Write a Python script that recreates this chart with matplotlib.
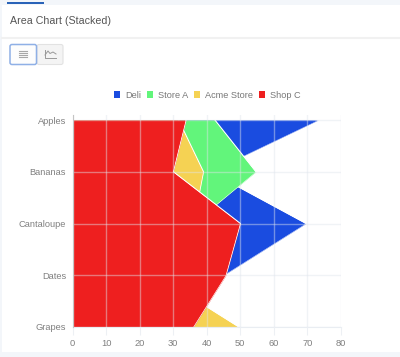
import matplotlib
matplotlib.use('Agg')
import matplotlib.pyplot as plt
from matplotlib.patches import Rectangle, FancyBboxPatch

plt.rcParams['font.family'] = ['Liberation Sans', 'DejaVu Sans']

categories = ['Apples', 'Bananas', 'Cantaloupe', 'Dates', 'Grapes']
xTicks = [0, 10, 20, 30, 40, 50, 60, 70, 80]

# outer edge of each area as it shows in the picture (stacked totals)
deli = [73.2, 41, 69.5, 45, 30]
storeA = [42.4, 54.6, 36, 30, 20]
acmeStore = [31.6, 39, 36, 25, 49.5]
shopC = [33.8, 30, 50, 45.7, 36]

seriesNames = ['Deli', 'Store A', 'Acme Store', 'Shop C']
seriesColors = ['#1a4ce0', '#62f57b', '#f5d253', '#ee1f1f']
seriesValues = [deli, storeA, acmeStore, shopC]

W, H = 400, 357
fig = plt.figure(figsize=(W / 100, H / 100), dpi=100, facecolor='#f3f6fa')

# page furniture, in pixel coords
page = fig.add_axes([0, 0, 1, 1], zorder=0)
page.set_xlim(0, W)
page.set_ylim(H, 0)
page.axis('off')
page.add_patch(Rectangle((2, 5), W, 347, fc='white', ec='none'))
page.add_patch(Rectangle((7, 2), 37, 1.6, fc='#2a63b8', ec='none'))
page.plot([2, W], [37.5, 37.5], color='#f1f1f1', lw=1.5)
page.text(10, 21.5, 'Area Chart (Stacked)', fontsize=7.7, color='#555555', va='center')

page.add_patch(FancyBboxPatch((37, 44.5), 26, 20, boxstyle='round,pad=0,rounding_size=2',
                              fc='#f4f4f4', ec='#e2e2e2', lw=0.8))
page.add_patch(FancyBboxPatch((10, 44.5), 26.5, 20, boxstyle='round,pad=0,rounding_size=2',
                              fc='#fdfdfd', ec='#8fb0e6', lw=1.1))
for yy in [51, 53, 55, 57]:
    page.plot([19, 27], [yy, yy], color='#a8a8a8', lw=0.8)
page.plot([45, 45, 56], [50, 58, 58], color='#999999', lw=0.7)
page.plot([45, 48, 50, 53, 56], [55, 51, 53.5, 52, 54], color='#999999', lw=0.7)

# plot area
left, right, top, bottom = 72.5, 341, 115, 327
ax = fig.add_axes([left / W, 1 - bottom / H, (right - left) / W, (bottom - top) / H], zorder=1)
ax.patch.set_alpha(0)
yPos = list(range(len(categories)))

for name, color, values in zip(seriesNames, seriesColors, seriesValues):
    ax.fill_betweenx(yPos, 0, values, color=color, lw=0, label=name, zorder=2)
    ax.plot(values, yPos, color='white', lw=0.9, zorder=2, solid_joinstyle='miter')
    # white edge closes along the baseline only, keep the fill on the left clean
    ax.fill_betweenx(yPos, 0, [v - 0.25 for v in values], color=color, lw=0, zorder=2)

ax.set_xlim(0, 80)
ax.set_ylim(4, -5 / 51.75)
ax.set_xticks(xTicks)
ax.set_yticks(yPos)
ax.set_yticklabels(categories)
ax.grid(True, color='#dfe5ec', lw=1, alpha=0.45, zorder=3)
ax.set_axisbelow(False)
ax.tick_params(axis='x', length=6, color='#edf0f4', labelsize=6.7, labelcolor='#808080', pad=2.5)
ax.tick_params(axis='y', length=0, labelsize=6.7, labelcolor='#808080', pad=4.5)
for s in ['top', 'right']:
    ax.spines[s].set_visible(False)
ax.spines['bottom'].set_color('#e9edf2')
ax.spines['left'].set_color('#c4c4c4')
ax.spines['left'].set_linewidth(0.8)
ax.spines['left'].set_zorder(4)

legend = ax.legend(loc='center', bbox_to_anchor=((207 - left) / (right - left), 1 + (top - 95) / (bottom - top)),
                   ncol=4, frameon=False, fontsize=6.6, handlelength=0.72, handleheight=0.72,
                   handletextpad=0.5, columnspacing=0.62, labelcolor='#777777', borderpad=0)

fig.savefig('out.png', dpi=100, facecolor=fig.get_facecolor())
